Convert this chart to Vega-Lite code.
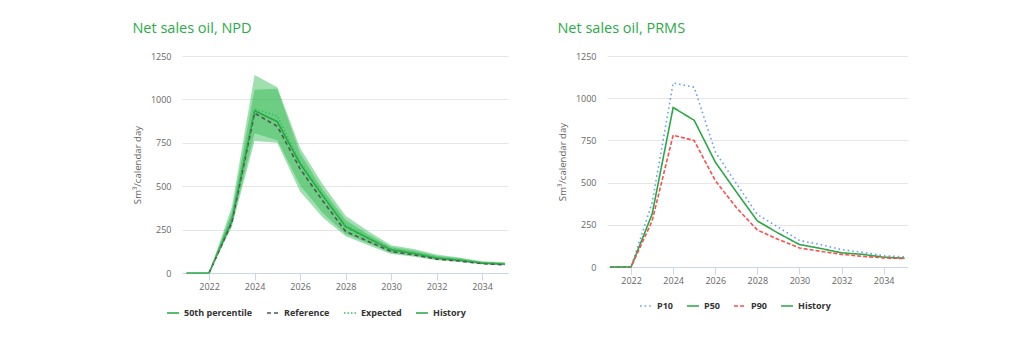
{
  "$schema": "https://vega.github.io/schema/vega-lite/v6.json",
  "background": "white",
  "padding": {"left": 132, "top": 20, "right": 0, "bottom": 0},
  "spacing": 48,
  "config": {
    "font": "Open Sans",
    "view": {"stroke": null},
    "axis": {"labelColor": "#666666", "labelFontSize": 9, "labelFont": "Open Sans", "titleFont": "Open Sans", "titleFontWeight": "normal", "titleColor": "#666666", "titleFontSize": 9.6, "gridColor": "#e6e6e6"},
    "title": {"font": "Open Sans", "fontSize": 14.5, "fontWeight": "normal", "color": "#2aab47", "anchor": "start", "frame": "bounds"},
    "legend": {"labelFont": "Open Sans", "labelFontSize": 9, "labelFontWeight": "bold", "labelColor": "#333333", "symbolType": "stroke", "symbolSize": 144, "symbolStrokeWidth": 1.6, "labelOffset": 4, "columnPadding": 10, "orient": "none", "direction": "horizontal", "title": null}
  },
  "datasets": {
    "npd_bands": [
      {"year": 2021, "lo": 0, "hi": 0, "band": "outer"},
      {"year": 2022, "lo": 0, "hi": 0, "band": "outer"},
      {"year": 2023, "lo": 265, "hi": 380, "band": "outer"},
      {"year": 2024, "lo": 760, "hi": 1140, "band": "outer"},
      {"year": 2025, "lo": 750, "hi": 1070, "band": "outer"},
      {"year": 2026, "lo": 470, "hi": 720, "band": "outer"},
      {"year": 2027, "lo": 320, "hi": 510, "band": "outer"},
      {"year": 2028, "lo": 212, "hi": 330, "band": "outer"},
      {"year": 2029, "lo": 160, "hi": 240, "band": "outer"},
      {"year": 2030, "lo": 110, "hi": 160, "band": "outer"},
      {"year": 2031, "lo": 93, "hi": 138, "band": "outer"},
      {"year": 2032, "lo": 74, "hi": 106, "band": "outer"},
      {"year": 2033, "lo": 64, "hi": 90, "band": "outer"},
      {"year": 2034, "lo": 51, "hi": 68, "band": "outer"},
      {"year": 2035, "lo": 45, "hi": 62, "band": "outer"},
      {"year": 2021, "lo": 0, "hi": 0, "band": "inner"},
      {"year": 2022, "lo": 0, "hi": 0, "band": "inner"},
      {"year": 2023, "lo": 280, "hi": 350, "band": "inner"},
      {"year": 2024, "lo": 805, "hi": 1055, "band": "inner"},
      {"year": 2025, "lo": 765, "hi": 1062, "band": "inner"},
      {"year": 2026, "lo": 505, "hi": 690, "band": "inner"},
      {"year": 2027, "lo": 345, "hi": 480, "band": "inner"},
      {"year": 2028, "lo": 225, "hi": 305, "band": "inner"},
      {"year": 2029, "lo": 172, "hi": 222, "band": "inner"},
      {"year": 2030, "lo": 117, "hi": 150, "band": "inner"},
      {"year": 2031, "lo": 99, "hi": 130, "band": "inner"},
      {"year": 2032, "lo": 79, "hi": 100, "band": "inner"},
      {"year": 2033, "lo": 67, "hi": 85, "band": "inner"},
      {"year": 2034, "lo": 54, "hi": 64, "band": "inner"},
      {"year": 2035, "lo": 47, "hi": 58, "band": "inner"}
    ],
    "npd_lines": [
      {"series": "50th percentile", "year": 2022, "value": 0},
      {"series": "50th percentile", "year": 2023, "value": 300},
      {"series": "50th percentile", "year": 2024, "value": 935},
      {"series": "50th percentile", "year": 2025, "value": 872},
      {"series": "50th percentile", "year": 2026, "value": 630},
      {"series": "50th percentile", "year": 2027, "value": 445},
      {"series": "50th percentile", "year": 2028, "value": 268},
      {"series": "50th percentile", "year": 2029, "value": 200},
      {"series": "50th percentile", "year": 2030, "value": 134},
      {"series": "50th percentile", "year": 2031, "value": 113},
      {"series": "50th percentile", "year": 2032, "value": 86},
      {"series": "50th percentile", "year": 2033, "value": 74},
      {"series": "50th percentile", "year": 2034, "value": 57},
      {"series": "50th percentile", "year": 2035, "value": 51},
      {"series": "Reference", "year": 2022, "value": 0},
      {"series": "Reference", "year": 2023, "value": 290},
      {"series": "Reference", "year": 2024, "value": 920},
      {"series": "Reference", "year": 2025, "value": 845},
      {"series": "Reference", "year": 2026, "value": 600},
      {"series": "Reference", "year": 2027, "value": 415},
      {"series": "Reference", "year": 2028, "value": 240},
      {"series": "Reference", "year": 2029, "value": 182},
      {"series": "Reference", "year": 2030, "value": 124},
      {"series": "Reference", "year": 2031, "value": 104},
      {"series": "Reference", "year": 2032, "value": 80},
      {"series": "Reference", "year": 2033, "value": 69},
      {"series": "Reference", "year": 2034, "value": 54},
      {"series": "Reference", "year": 2035, "value": 47},
      {"series": "Expected", "year": 2022, "value": 0},
      {"series": "Expected", "year": 2023, "value": 320},
      {"series": "Expected", "year": 2024, "value": 945},
      {"series": "Expected", "year": 2025, "value": 905},
      {"series": "Expected", "year": 2026, "value": 642},
      {"series": "Expected", "year": 2027, "value": 450},
      {"series": "Expected", "year": 2028, "value": 275},
      {"series": "Expected", "year": 2029, "value": 205},
      {"series": "Expected", "year": 2030, "value": 140},
      {"series": "Expected", "year": 2031, "value": 118},
      {"series": "Expected", "year": 2032, "value": 90},
      {"series": "Expected", "year": 2033, "value": 77},
      {"series": "Expected", "year": 2034, "value": 60},
      {"series": "Expected", "year": 2035, "value": 54},
      {"series": "History", "year": 2021, "value": 0},
      {"series": "History", "year": 2022, "value": 0}
    ],
    "prms_lines": [
      {"case": "P10", "year": 2021, "value": 0},
      {"case": "P10", "year": 2022, "value": 0},
      {"case": "P10", "year": 2023, "value": 380},
      {"case": "P10", "year": 2024, "value": 1090},
      {"case": "P10", "year": 2025, "value": 1065},
      {"case": "P10", "year": 2026, "value": 682},
      {"case": "P10", "year": 2027, "value": 495},
      {"case": "P10", "year": 2028, "value": 311},
      {"case": "P10", "year": 2029, "value": 235},
      {"case": "P10", "year": 2030, "value": 157},
      {"case": "P10", "year": 2031, "value": 133},
      {"case": "P10", "year": 2032, "value": 103},
      {"case": "P10", "year": 2033, "value": 87},
      {"case": "P10", "year": 2034, "value": 66},
      {"case": "P10", "year": 2035, "value": 60},
      {"case": "P50", "year": 2022, "value": 0},
      {"case": "P50", "year": 2023, "value": 313},
      {"case": "P50", "year": 2024, "value": 945},
      {"case": "P50", "year": 2025, "value": 869},
      {"case": "P50", "year": 2026, "value": 622},
      {"case": "P50", "year": 2027, "value": 445},
      {"case": "P50", "year": 2028, "value": 273},
      {"case": "P50", "year": 2029, "value": 200},
      {"case": "P50", "year": 2030, "value": 133},
      {"case": "P50", "year": 2031, "value": 110},
      {"case": "P50", "year": 2032, "value": 84},
      {"case": "P50", "year": 2033, "value": 75},
      {"case": "P50", "year": 2034, "value": 58},
      {"case": "P50", "year": 2035, "value": 52},
      {"case": "P90", "year": 2021, "value": 0},
      {"case": "P90", "year": 2022, "value": 0},
      {"case": "P90", "year": 2023, "value": 273},
      {"case": "P90", "year": 2024, "value": 781},
      {"case": "P90", "year": 2025, "value": 749},
      {"case": "P90", "year": 2026, "value": 512},
      {"case": "P90", "year": 2027, "value": 352},
      {"case": "P90", "year": 2028, "value": 219},
      {"case": "P90", "year": 2029, "value": 163},
      {"case": "P90", "year": 2030, "value": 113},
      {"case": "P90", "year": 2031, "value": 93},
      {"case": "P90", "year": 2032, "value": 75},
      {"case": "P90", "year": 2033, "value": 63},
      {"case": "P90", "year": 2034, "value": 54},
      {"case": "P90", "year": 2035, "value": 50},
      {"case": "History", "year": 2021, "value": 0},
      {"case": "History", "year": 2022, "value": 0}
    ]
  },
  "resolve": {"scale": {"color": "independent", "strokeDash": "independent", "x": "independent", "y": "independent"}},
  "hconcat": [
    {
      "width": 326,
      "height": 217,
      "title": {"text": "Net sales oil, NPD", "offset": 16},
      "layer": [
        {
          "data": {"name": "npd_bands"},
          "mark": {"type": "area", "color": "#2db84d", "opacity": 0.45},
          "encoding": {
            "x": {"field": "year", "type": "quantitative", "scale": {"domain": [2020.81, 2035.14], "nice": false, "zero": false}, "axis": {"values": [2022, 2024, 2026, 2028, 2030, 2032, 2034], "format": "d", "title": null, "grid": false, "domainColor": "#ccd6eb", "tickColor": "#ccd6eb", "tickSize": 7, "labelPadding": 2}},
            "y": {"field": "lo", "type": "quantitative", "scale": {"domain": [0, 1250], "nice": false}, "axis": {"values": [0, 250, 500, 750, 1000, 1250], "format": "d", "title": "Sm³/calendar day", "domain": false, "ticks": false, "labelPadding": 11, "titlePadding": 8}},
            "y2": {"field": "hi"},
            "detail": {"field": "band"}
          }
        },
        {
          "data": {"name": "npd_lines"},
          "mark": {"type": "line", "strokeWidth": 1.6},
          "encoding": {
            "x": {"field": "year", "type": "quantitative"},
            "y": {"field": "value", "type": "quantitative"},
            "color": {"field": "series", "type": "nominal", "scale": {"domain": ["50th percentile", "Reference", "Expected", "History"], "range": ["#22a83f", "#555555", "#3cc060", "#22a83f"]}, "legend": {"legendX": -16, "legendY": 250}},
            "strokeDash": {"field": "series", "type": "nominal", "scale": {"domain": ["50th percentile", "Reference", "Expected", "History"], "range": [[1, 0], [4, 3], [1.5, 2], [1, 0]]}}
          }
        }
      ]
    },
    {
      "width": 301,
      "height": 211,
      "title": {"text": "Net sales oil, PRMS", "offset": 16},
      "data": {"name": "prms_lines"},
      "mark": {"type": "line", "strokeWidth": 1.6},
      "encoding": {
        "x": {"field": "year", "type": "quantitative", "scale": {"domain": [2020.857, 2035.157], "nice": false, "zero": false}, "axis": {"values": [2022, 2024, 2026, 2028, 2030, 2032, 2034], "format": "d", "title": null, "grid": false, "domainColor": "#ccd6eb", "tickColor": "#ccd6eb", "tickSize": 7, "labelPadding": 2}},
        "y": {"field": "value", "type": "quantitative", "scale": {"domain": [0, 1250], "nice": false}, "axis": {"values": [0, 250, 500, 750, 1000, 1250], "format": "d", "title": "Sm³/calendar day", "domain": false, "ticks": false, "labelPadding": 11, "titlePadding": 8}},
        "color": {"field": "case", "type": "nominal", "scale": {"domain": ["P10", "P50", "P90", "History"], "range": ["#6a9ff0", "#2aa845", "#ff4d4d", "#2aa845"]}, "legend": {"legendX": 32, "legendY": 243}},
        "strokeDash": {"field": "case", "type": "nominal", "scale": {"domain": ["P10", "P50", "P90", "History"], "range": [[1.6, 3], [1, 0], [4, 2], [1, 0]]}}
      }
    }
  ]
}
